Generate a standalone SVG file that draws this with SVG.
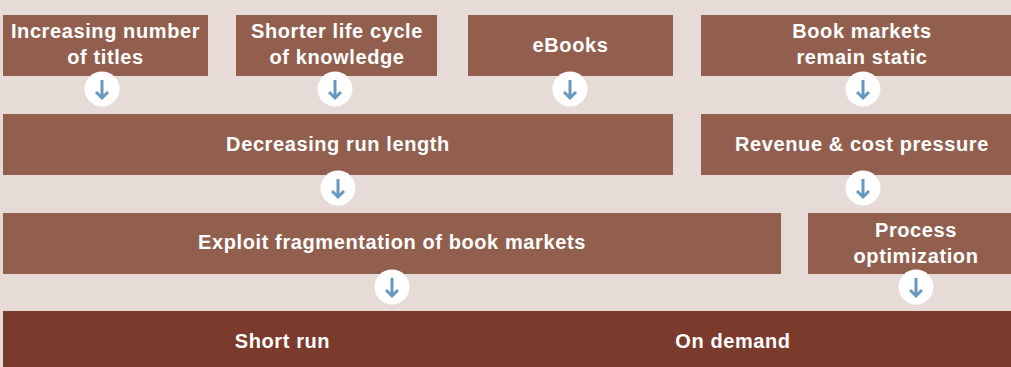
<svg xmlns="http://www.w3.org/2000/svg" width="1011" height="367" viewBox="0 0 1011 367">
<defs>
<style>
.box{fill:#925f4f}
.base{fill:#7a3a2c}
.t{font-family:"Liberation Sans",Arial,sans-serif;font-weight:bold;font-size:20px;letter-spacing:0.6px;fill:#ffffff;text-anchor:middle}
.c{fill:#ffffff}
.a{fill:none;stroke:#6799bf;stroke-width:3}
</style>
<g id="arr">
<circle class="c" r="17.5" cx="0" cy="0"/>
<path class="a" d="M0,-9 V9 M-6,3 L0,9 L6,3"/>
</g>
</defs>
<rect width="1011" height="367" fill="#e7dbd7"/>
<g id="n1"><rect class="box" x="3" y="15" width="205" height="61"/><text class="t" x="105.5" y="38">Increasing number</text><text class="t" x="105.5" y="64">of titles</text></g>
<g id="n2"><rect class="box" x="236" y="15" width="201" height="61"/><text class="t" x="337" y="38">Shorter life cycle</text><text class="t" x="337" y="64">of knowledge</text></g>
<g id="n3"><rect class="box" x="468" y="15" width="205" height="61"/><text class="t" x="570.5" y="52">eBooks</text></g>
<g id="n4"><rect class="box" x="701" y="15" width="310" height="61"/><text class="t" x="862" y="38">Book markets</text><text class="t" x="862" y="64">remain static</text></g>
<g id="n5"><rect class="box" x="3" y="114" width="670" height="61"/><text class="t" x="338" y="151">Decreasing run length</text></g>
<g id="n6"><rect class="box" x="701" y="114" width="310" height="61"/><text class="t" x="862" y="151">Revenue &amp; cost pressure</text></g>
<g id="n7"><rect class="box" x="3" y="213" width="778" height="61"/><text class="t" x="392" y="249">Exploit fragmentation of book markets</text></g>
<g id="n8"><rect class="box" x="808" y="213" width="203" height="61"/><text class="t" x="916" y="237">Process</text><text class="t" x="916" y="263">optimization</text></g>
<g id="n9"><rect class="base" x="3" y="311" width="1008" height="56"/><text class="t" x="282.5" y="348">Short run</text><text class="t" x="733" y="348">On demand</text></g>
<g id="connectors">
<use href="#arr" x="102" y="89"/>
<use href="#arr" x="335" y="89"/>
<use href="#arr" x="570" y="89"/>
<use href="#arr" x="863" y="89"/>
<use href="#arr" x="338" y="188"/>
<use href="#arr" x="863" y="188"/>
<use href="#arr" x="392" y="287"/>
<use href="#arr" x="916" y="287"/>
</g>
</svg>
